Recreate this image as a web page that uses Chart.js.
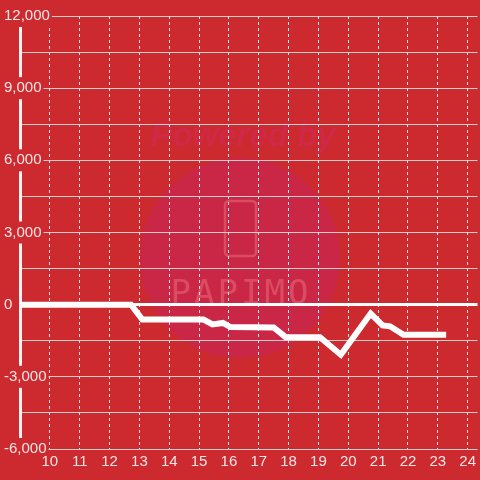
<!DOCTYPE html>
<html>
<head>
<meta charset="utf-8">
<script src="https://cdn.jsdelivr.net/npm/chart.js@4/dist/chart.umd.min.js"></script>
<style>
  html, body { margin: 0; padding: 0; background: #cc2a2f; }
  canvas { display: block; }
</style>
</head>
<body>
<canvas id="slotChart" width="480" height="480"></canvas>
<script>
// hour of day / coin difference
const times = [9, 12.72, 13.1, 15.15, 15.45, 15.8, 16.05, 17.5, 17.9, 19.05, 19.75, 20.75, 21.15, 21.4, 21.85, 23.28];
const values = [0, 0, -620, -620, -820, -760, -930, -950, -1350, -1350, -2080, -370, -860, -900, -1250, -1250];
const hourTicks = [10, 11, 12, 13, 14, 15, 16, 17, 18, 19, 20, 21, 22, 23, 24];
const valueTicks = [-6000, -4500, -3000, -1500, 0, 1500, 3000, 4500, 6000, 7500, 9000, 10500, 12000];

const bgColor = '#cc2a2f';

const backgroundPlugin = {
  id: 'background',
  beforeDraw(chart) {
    const c = chart.ctx;
    c.save();
    c.fillStyle = bgColor;
    c.fillRect(0, 0, chart.width, chart.height);

    // watermark
    c.fillStyle = 'rgba(200, 35, 90, 0.55)';
    c.beginPath();
    c.arc(240, 258, 100, 0, Math.PI * 2);
    c.fill();

    c.fillStyle = 'rgba(210, 40, 95, 0.5)';
    c.font = 'italic bold 33px "Liberation Sans"';
    c.textAlign = 'center';
    c.textBaseline = 'alphabetic';
    c.fillText('Powered by', 243, 146);

    c.strokeStyle = 'rgba(255, 150, 150, 0.35)';
    c.lineWidth = 2.5;
    c.beginPath();
    c.roundRect(225, 201, 31, 55, 4);
    c.stroke();

    c.fillStyle = 'rgba(255, 160, 160, 0.32)';
    c.font = '34px "DejaVu Sans Mono"';
    c.letterSpacing = '3px';
    c.fillText('PAPIMO', 241, 304);
    c.restore();
  }
};

const slotCtx = document.getElementById('slotChart').getContext('2d');
const slotChart = new Chart(slotCtx, {
  type: 'line',
  data: {
    datasets: [{
      data: times.map((t, i) => ({ x: t, y: values[i] })),
      borderColor: '#ffffff',
      borderWidth: 6,
      pointRadius: 0,
      tension: 0,
      fill: false
    }]
  },
  options: {
    responsive: false,
    animation: false,
    devicePixelRatio: 1,
    layout: {
      padding: { left: 3, top: 16, right: 0, bottom: 5 }
    },
    plugins: {
      legend: { display: false },
      tooltip: { enabled: false }
    },
    scales: {
      x: {
        type: 'linear',
        min: 9,
        max: 24.33,
        afterBuildTicks: scale => {
          scale.ticks = hourTicks.map(v => ({ value: v }));
        },
        grid: {
          color: '#e6e6e6',
          lineWidth: 1,
          drawTicks: false
        },
        border: {
          display: false,
          dash: [3, 3]
        },
        ticks: {
          z: 1,
          color: 'rgba(255,255,255,0.88)',
          padding: 4,
          font: { family: 'Liberation Sans', size: 15 }
        }
      },
      y: {
        min: -6000,
        max: 12000,
        afterBuildTicks: scale => {
          scale.ticks = valueTicks.map(v => ({ value: v }));
        },
        afterFit: scale => {
          scale.width = 17;
        },
        grid: {
          color: ctx => ctx.tick && ctx.tick.value === 0 ? '#ffffff' : '#cfcfcf',
          lineWidth: ctx => ctx.tick && ctx.tick.value === 0 ? 3 : 1,
          drawTicks: false
        },
        border: {
          display: true,
          color: '#f4f4f4',
          width: 3
        },
        ticks: {
          mirror: true,
          crossAlign: 'near',
          padding: -16,
          color: 'rgba(255,255,255,0.88)',
          font: { family: 'Liberation Sans', size: 15 },
          showLabelBackdrop: ctx => ctx.tick.value % 3000 === 0,
          backdropColor: bgColor,
          backdropPadding: 2,
          callback: v => v % 3000 === 0 ? v.toLocaleString('en-US') : ''
        }
      }
    }
  },
  plugins: [backgroundPlugin]
});
</script>
</body>
</html>
